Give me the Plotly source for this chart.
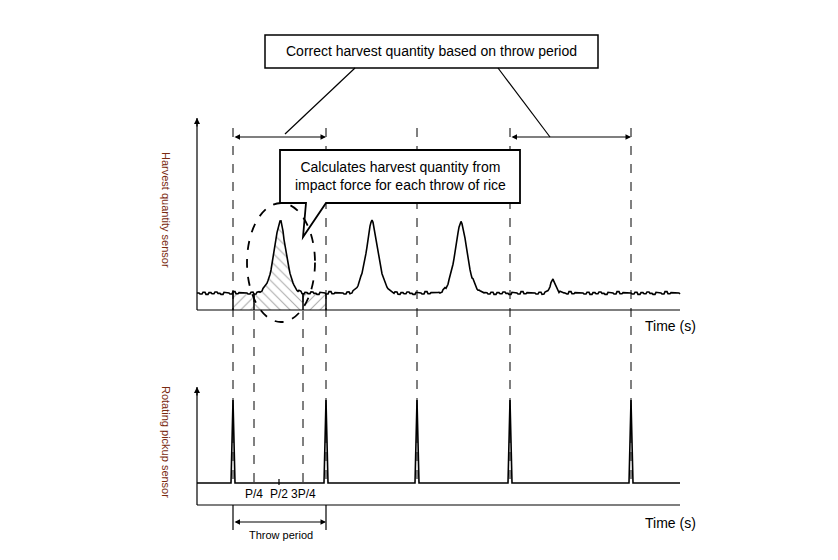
import plotly.graph_objects as go
import numpy as np

# ---- data ----
pulse_times = [233, 326, 417, 510, 631]          # rotating pickup pulses (x px)
impact_times = [280, 372, 461, 553]               # harvest impact peaks
impact_heights = [73, 73, 73, 13]                 # peak height above baseline (px)
wobble = [0, 1.5, -1, 2, -0.5, 1, -1.5, 0.5, 2, -1, 0, 1.5, -2, 1, -0.5, 0.5]
quarter_labels = ["P/4", "P/2", "3P/4"]
quarter_pos = [254, 279, 303]

BASE1, AX1 = 293, 310
BASE2, AX2 = 483, 505
PULSE_TOP = 400

x = np.arange(197, 681, 1.0)
y1 = np.full_like(x, BASE1)
for i in range(len(x)):
    y1[i] += wobble[(i // 3) % len(wobble)] * 0.7
for t, h in zip(impact_times, impact_heights):
    w = 8.5 if h > 30 else 4
    y1 -= h * np.exp(-np.abs((x - t) / w) ** 1.6)

y2 = np.full_like(x, BASE2)
for t in pulse_times:
    y2 -= (BASE2 - PULSE_TOP) * np.clip(1 - np.abs(x - t) / 2.0, 0, 1)

fig = go.Figure()
def band(x0, x1, pat):
    m = (x >= x0) & (x <= x1)
    xs = x[m]; ys = y1[m]
    fig.add_trace(go.Scatter(x=list(xs) + list(xs[::-1]), y=list(ys) + [AX1] * len(xs),
                             fill="toself", fillcolor="rgba(0,0,0,0)", line=dict(width=0),
                             fillpattern=dict(shape=pat, fgcolor="#555", size=7, solidity=0.15),
                             mode="lines", hoverinfo="skip", showlegend=False))
band(233, 254, "/")
band(254, 303, "\\")
band(303, 326, "/")
for xv in [233, 254, 303, 326]:
    fig.add_shape(type="line", x0=xv, x1=xv, y0=float(np.interp(xv, x, y1)), y1=AX1, line=dict(color="black", width=1.5))

fig.add_trace(go.Scatter(x=x, y=y1, mode="lines", line=dict(color="black", width=1.6), showlegend=False))
fig.add_trace(go.Scatter(x=x, y=y2, mode="lines", line=dict(color="black", width=1.6), showlegend=False))

L = dict(color="black", width=1.2)
D = dict(color="black", width=1, dash="dash")
for (yt, yb) in [(118, AX1), (387, AX2)]:
    fig.add_shape(type="line", x0=197, x1=197, y0=yt, y1=yb, line=L)
    fig.add_annotation(x=197, y=yt, ax=197, ay=yt + 10, xref="x", yref="y", axref="x", ayref="y",
                       showarrow=True, arrowhead=2, arrowsize=1, arrowwidth=1.2, arrowcolor="black", text="")
fig.add_shape(type="line", x0=197, x1=680, y0=AX1, y1=AX1, line=L)
fig.add_shape(type="line", x0=197, x1=680, y0=AX2, y1=AX2, line=L)
for t in pulse_times:
    fig.add_shape(type="line", x0=t, x1=t, y0=128, y1=BASE2, line=D)
for t in [254, 303]:
    fig.add_shape(type="line", x0=t, x1=t, y0=BASE1, y1=BASE2, line=D)
fig.add_shape(type="line", x0=233, x1=233, y0=AX2, y1=530, line=L)
fig.add_shape(type="line", x0=326, x1=326, y0=AX2, y1=530, line=L)
fig.add_shape(type="line", x0=279, x1=279, y0=BASE2 - 4, y1=BASE2 + 2, line=L)

def darrow(xa, xb, yy):
    fig.add_annotation(x=xb, y=yy, ax=xa, ay=yy, xref="x", yref="y", axref="x", ayref="y",
                       showarrow=True, arrowhead=2, startarrowhead=2, arrowside="end+start",
                       arrowsize=1, arrowwidth=1.1, arrowcolor="black", text="")
darrow(233, 326, 137)
darrow(510, 631, 137)
darrow(233, 326, 522)

fig.add_shape(type="rect", x0=265, x1=598, y0=35, y1=68, line=dict(color="black", width=1.5), fillcolor="white")
fig.add_shape(type="line", x0=355, x1=285, y0=68, y1=134, line=L)
fig.add_shape(type="line", x0=498, x1=550, y0=68, y1=137, line=L)
fig.add_annotation(x=431, y=51, text="Correct harvest quantity based on throw period", showarrow=False,
                   font=dict(size=14, color="black"))
fig.add_shape(type="path", path="M 280 150 L 520 150 L 520 203 L 326 203 L 303 237 L 306 203 L 280 203 Z",
              line=dict(color="black", width=1.8), fillcolor="white")
fig.add_annotation(x=400, y=176, text="Calculates harvest quantity from<br>impact force for each throw of rice",
                   showarrow=False, font=dict(size=14, color="black"))
fig.add_shape(type="circle", x0=247, x1=315, y0=203, y1=322, line=dict(color="black", width=1.8, dash="dash"))

for yy in [326, 523]:
    fig.add_annotation(x=670, y=yy, text="Time (s)", showarrow=False, font=dict(size=14, color="black"))
for p, lab in zip(quarter_pos, quarter_labels):
    fig.add_annotation(x=p, y=494, text=lab, showarrow=False, font=dict(size=12, color="black"))
fig.add_annotation(x=281, y=535, text="Throw period", showarrow=False, font=dict(size=11, color="black"))
fig.add_annotation(x=166, y=210, text="Harvest quantity sensor", textangle=90, showarrow=False,
                   font=dict(size=11, color="#7a2a10"))
fig.add_annotation(x=166, y=442, text="Rotating pickup sensor", textangle=90, showarrow=False,
                   font=dict(size=11, color="#7a2a10"))

fig.update_layout(width=838, height=560, margin=dict(l=0, r=0, t=0, b=0),
                  plot_bgcolor="white", paper_bgcolor="white",
                  font=dict(family="Liberation Sans, Arial"),
                  xaxis=dict(range=[8, 846], visible=False),
                  yaxis=dict(range=[568, 8], visible=False))
fig.write_html("out.html")
